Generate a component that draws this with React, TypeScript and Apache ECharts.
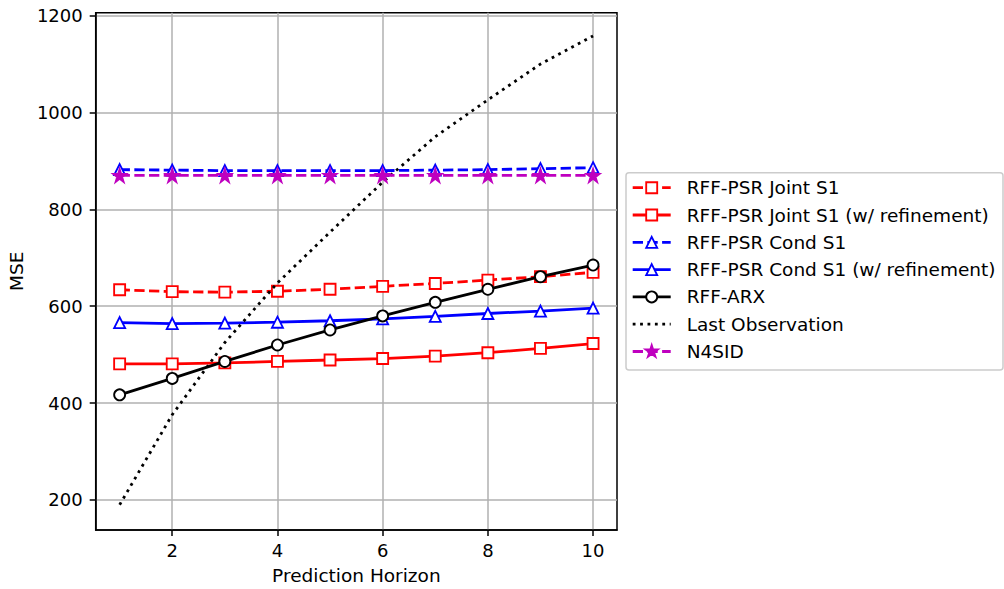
import React, { useEffect, useRef } from "react";
import * as echarts from "echarts";

const horizons = [1, 2, 3, 4, 5, 6, 7, 8, 9, 10];
const jointS1 = [634, 630, 629, 631, 635, 641, 647, 654, 661, 670];
const jointS1Ref = [481, 481, 483, 486, 489, 492, 497, 504, 513, 523];
const condS1 = [882, 881, 880, 880, 880, 880, 881, 882, 884, 886];
const condS1Ref = [566, 564, 565, 567, 570, 574, 579, 585, 590, 596];
const rffArx = [417, 451, 486, 520, 551, 580, 608, 635, 661, 685];
const lastObs = [190, 376, 525, 648, 753, 856, 950, 1026, 1100, 1158];
const n4sid = [870, 870, 870, 870, 870, 870, 870, 870, 870, 870];

const xTicks = [2, 4, 6, 8, 10];
const yTicks = [200, 400, 600, 800, 1000, 1200];

const seriesNames = [
  "RFF-PSR Joint S1",
  "RFF-PSR Joint S1 (w/ refinement)",
  "RFF-PSR Cond S1",
  "RFF-PSR Cond S1 (w/ refinement)",
  "RFF-ARX",
  "Last Observation",
  "N4SID",
];

const FONT = "DejaVu Sans";
const LW = 2.8;
const DASH = [10.3, 4.4];
const DOT = [2.8, 4.6];
const STAR =
  "path://M0,-1 L0.2245,-0.309 L0.951,-0.309 L0.363,0.118 L0.588,0.809 L0,0.382 L-0.588,0.809 L-0.363,0.118 L-0.951,-0.309 L-0.2245,-0.309 Z";

type Sty = {
  color: string;
  dash: number[] | null;
  symbol: string;
  fill: string;
  size: number;
};

const styles: Sty[] = [
  { color: "#ff0000", dash: DASH, symbol: "rect", fill: "#ffffff", size: 11 },
  { color: "#ff0000", dash: null, symbol: "rect", fill: "#ffffff", size: 11 },
  { color: "#0000ff", dash: DASH, symbol: "triangle", fill: "#ffffff", size: 11 },
  { color: "#0000ff", dash: null, symbol: "triangle", fill: "#ffffff", size: 11 },
  { color: "#000000", dash: null, symbol: "circle", fill: "#ffffff", size: 11 },
  { color: "#000000", dash: DOT, symbol: "none", fill: "#000000", size: 0 },
  { color: "#bf00bf", dash: DASH, symbol: STAR, fill: "#bf00bf", size: 13 },
];

const seriesData = [jointS1, jointS1Ref, condS1, condS1Ref, rffArx, lastObs, n4sid];

function legendMarker(s: Sty, cx: number, cy: number): any {
  const h = s.size / 2;
  const base = { stroke: s.color, lineWidth: 1.85, fill: s.fill };
  if (s.symbol === "rect")
    return { type: "rect", shape: { x: cx - h, y: cy - h, width: s.size, height: s.size }, style: base };
  if (s.symbol === "circle") return { type: "circle", shape: { cx, cy, r: h }, style: base };
  if (s.symbol === "triangle")
    return {
      type: "polygon",
      shape: { points: [[cx, cy - h], [cx + h, cy + h], [cx - h, cy + h]] },
      style: base,
    };
  if (s.symbol === STAR) {
    const pts: number[][] = [];
    for (let i = 0; i < 10; i++) {
      const r = i % 2 === 0 ? h : h * 0.382;
      const a = -Math.PI / 2 + (i * Math.PI) / 5;
      pts.push([cx + r * Math.cos(a), cy + r * Math.sin(a)]);
    }
    return { type: "polygon", shape: { points: pts }, style: base };
  }
  return null;
}

export default function App() {
  const ref = useRef<HTMLDivElement>(null);
  useEffect(() => {
    if (!ref.current) return;
    const chart = echarts.init(ref.current, null, { renderer: "svg" });

    const series = seriesNames.map((name, i) => {
      const s = styles[i];
      return {
        name,
        type: "line",
        data: horizons.map((h, j) => [h, seriesData[i][j]]),
        symbol: s.symbol,
        symbolSize: s.size,
        showSymbol: s.symbol !== "none",
        lineStyle: { color: s.color, width: LW, type: s.dash ? s.dash : "solid", cap: "butt" },
        itemStyle: { color: s.fill, borderColor: s.color, borderWidth: 1.85 },
        emphasis: { disabled: true },
        z: 2 + i,
      };
    });

    const legendChildren: any[] = [
      {
        type: "rect",
        shape: { x: 626, y: 172.7, width: 377, height: 197.3, r: 3 },
        style: { fill: "rgba(255,255,255,0.8)", stroke: "#cccccc", lineWidth: 1.5 },
      },
    ];
    seriesNames.forEach((name, i) => {
      const s = styles[i];
      const cy = 187.7 + i * 27.3;
      legendChildren.push({
        type: "line",
        shape: { x1: 632.7, y1: cy, x2: 670.7, y2: cy },
        style: { stroke: s.color, lineWidth: LW, lineDash: s.dash || undefined, lineCap: "butt" },
      });
      const m = legendMarker(s, 651.7, cy);
      if (m) legendChildren.push(m);
      legendChildren.push({
        type: "text",
        x: 686.7,
        y: cy,
        style: { text: name, fill: "#000", font: `18.5px "${FONT}"`, verticalAlign: "middle", align: "left" },
      });
    });

    chart.setOption({
      animation: false,
      backgroundColor: "#ffffff",
      textStyle: { fontFamily: FONT },
      grid: {
        left: 95.7,
        right: 387,
        top: 12.7,
        bottom: 59,
        show: true,
        borderColor: "#000",
        borderWidth: 1.5,
        containLabel: false,
        outerBoundsMode: "none",
      },
      xAxis: {
        type: "value",
        min: 0.545,
        max: 10.455,
        name: "Prediction Horizon",
        nameLocation: "middle",
        nameGap: 36,
        nameTextStyle: { fontSize: 18.5, color: "#000", fontFamily: FONT },
        axisLine: { show: true, onZero: false, lineStyle: { color: "#000", width: 1.5 } },
        axisTick: { show: true, length: 6, customValues: xTicks, lineStyle: { color: "#000", width: 1.5 } },
        axisLabel: {
          customValues: xTicks,
          formatter: (v: number) => String(v),
          fontSize: 18,
          color: "#000",
          margin: 11,
          fontFamily: FONT,
        },
        splitLine: { show: true, lineStyle: { color: "#b0b0b0", width: 1.5 } },
      },
      yAxis: {
        type: "value",
        min: 138,
        max: 1206,
        name: "MSE",
        nameLocation: "middle",
        nameGap: 68,
        nameTextStyle: { fontSize: 18.5, color: "#000", fontFamily: FONT },
        axisLine: { show: true, onZero: false, lineStyle: { color: "#000", width: 1.5 } },
        axisTick: { show: true, length: 6, customValues: yTicks, lineStyle: { color: "#000", width: 1.5 } },
        axisLabel: {
          customValues: yTicks,
          formatter: (v: number) => String(v),
          fontSize: 18,
          color: "#000",
          margin: 13,
          fontFamily: FONT,
        },
        splitLine: { show: true, lineStyle: { color: "#b0b0b0", width: 1.5 } },
      },
      series,
      graphic: [{ type: "group", children: legendChildren, z: 100 }],
    });
    return () => chart.dispose();
  }, []);
  return (
    <div
      ref={ref}
      style={{ position: "absolute", left: 0, top: 0, width: 1004, height: 589, background: "#fff" }}
    />
  );
}
